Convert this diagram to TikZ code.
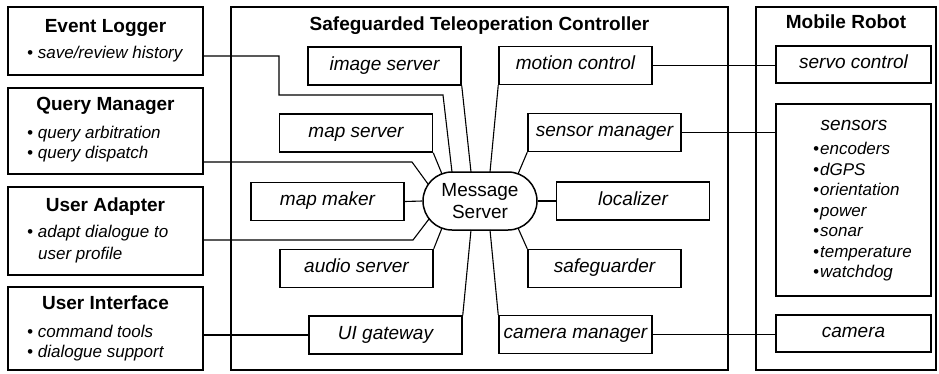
\documentclass[tikz,border=0pt]{standalone}
\usepackage{fontspec}
\setmainfont{Liberation Sans}
\begin{document}
\begin{tikzpicture}[x=1pt,y=-1pt,
  outerbox/.style={draw, line width=2.3pt, inner sep=0pt},
  innerbox/.style={draw, line width=1.5pt, minimum width=153pt, minimum height=38pt, inner sep=0pt,
    font=\fontsize{19}{22}\selectfont\itshape, text height=13pt, text depth=5pt},
  titletext/.style={anchor=base, inner sep=0pt, font=\fontsize{19}{22}\selectfont\bfseries},
  bullettext/.style={anchor=base west, inner sep=0pt, font=\fontsize{17}{20}\selectfont\itshape},
  conn/.style={line width=1.1pt}
]
\useasboundingbox (0,0) rectangle (939,373);

% ---------- left column ----------
\node[outerbox, minimum width=195pt, minimum height=68pt] (el) at (105.5,41) {};
\node[titletext] (elt) at (105.5,32) {Event Logger};
\node[bullettext] (el1) at (27,58.5) {• save/review history};

\node[outerbox, minimum width=195pt, minimum height=86pt] (qm) at (105.5,131) {};
\node[titletext] (qmt) at (105.5,110) {Query Manager};
\node[bullettext] (qm1) at (27,138) {• query arbitration};
\node[bullettext] (qm2) at (27,158) {• query dispatch};

\node[outerbox, minimum width=195pt, minimum height=88pt] (ua) at (105.5,231) {};
\node[titletext] (uat) at (105.5,211.5) {User Adapter};
\node[bullettext] (ua1) at (27,237) {• adapt dialogue to};
\node[bullettext] (ua2) at (38,259) {user profile};

\node[outerbox, minimum width=195pt, minimum height=83pt] (ui) at (105.5,328.5) {};
\node[titletext] (uit) at (105.5,309) {User Interface};
\node[bullettext] (ui1) at (27,337) {• command tools};
\node[bullettext] (ui2) at (27,357) {• dialogue support};

% ---------- controller ----------
\node[outerbox, minimum width=497pt, minimum height=363pt] (stc) at (479.5,188.5) {};
\node[titletext] (stct) at (479.5,30) {Safeguarded Teleoperation Controller};

\node[innerbox] (img) at (384.5,66) {image server};
\node[innerbox] (mapsrv) at (356,133) {map server};
\node[innerbox] (mapmk) at (327.5,201.5) {map maker};
\node[innerbox] (audio) at (356.5,268.5) {audio server};
\node[innerbox] (uigw) at (385.5,335) {UI gateway};
\node[innerbox] (motion) at (575.5,65.5) {motion control};
\node[innerbox] (sensmgr) at (604.5,132.5) {sensor manager};
\node[innerbox] (loc) at (633,201) {localizer};
\node[innerbox] (safe) at (604.5,268.5) {safeguarder};
\node[innerbox] (cam) at (575.5,334.5) {camera manager};

\node[draw, line width=1.5pt, rounded corners=29pt, minimum width=114pt, minimum height=58pt,
  inner sep=0pt, align=center, font=\fontsize{19}{22}\selectfont] (ms) at (480,201) {Message\\Server};

% ---------- mobile robot ----------
\node[outerbox, minimum width=180pt, minimum height=363pt] (mr) at (846,188.5) {};
\node[titletext] (mrt) at (846,28.5) {Mobile Robot};
\node[innerbox, minimum width=155pt, minimum height=37pt] (servo) at (853.5,64.5) {servo control};
\node[innerbox, minimum width=155pt, minimum height=192pt] (sensors) at (853.5,200) {};
\node[anchor=base, inner sep=0pt, font=\fontsize{19}{22}\selectfont\itshape] (senst) at (854,130) {sensors};
\node[bullettext] (s1) at (813,154) {•\hspace{1pt}encoders};
\node[bullettext] (s2) at (813,175) {•\hspace{1pt}dGPS};
\node[bullettext] (s3) at (813,195.5) {•\hspace{1pt}orientation};
\node[bullettext] (s4) at (813,216) {•\hspace{1pt}power};
\node[bullettext] (s5) at (813,236.5) {•\hspace{1pt}sonar};
\node[bullettext] (s6) at (813,257) {•\hspace{1pt}temperature};
\node[bullettext] (s7) at (813,277.5) {•\hspace{1pt}watchdog};
\node[innerbox, minimum width=155pt, minimum height=37pt] (camera) at (853.5,333.5) {camera};

% ---------- coordinates ----------
\coordinate (b1) at (279,56);
\coordinate (b2) at (279,95);
\coordinate (b3) at (443,95);
\coordinate (q1) at (412,162);
\coordinate (u1) at (413,240);
\coordinate (m-el) at (452,172);
\coordinate (m-img) at (471,172);
\coordinate (m-mot) at (490,172);
\coordinate (m-map) at (442,174);
\coordinate (m-sen) at (518,174);
\coordinate (m-qm) at (428,184);
\coordinate (m-ua) at (429,219);
\coordinate (m-aud) at (442,228);
\coordinate (m-saf) at (518,228);
\coordinate (m-uig) at (471,230);
\coordinate (m-cam) at (490,230);

% ---------- connectors ----------
\draw[conn] (el.east |- b1) -- (b1) -- (b2) -- (b3) -- (m-el);
\draw[conn] (qm.east |- q1) -- (q1) -- (m-qm);
\draw[conn] (ua.east |- u1) -- (u1) -- (m-ua);
\draw[conn] (ui.east |- uigw.west) -- (uigw.west);
\draw[conn] (img.south east) -- (m-img);
\draw[conn] (motion.south west) -- (m-mot);
\draw[conn] (mapsrv.south east) -- (m-map);
\draw[conn] (sensmgr.south west) -- (m-sen);
\draw[conn] (mapmk.east) -- (ms.west);
\draw[conn] (loc.west) -- (ms.east);
\draw[conn] (audio.north east) -- (m-aud);
\draw[conn] (safe.north west) -- (m-saf);
\draw[conn] (uigw.north east) -- (m-uig);
\draw[conn] (cam.north west) -- (m-cam);
\draw[conn] (motion.east) -- (servo.west |- motion.east);
\draw[conn] (sensmgr.east) -- (sensors.west |- sensmgr.east);
\draw[conn] (cam.east) -- (camera.west |- cam.east);
\end{tikzpicture}
\end{document}
